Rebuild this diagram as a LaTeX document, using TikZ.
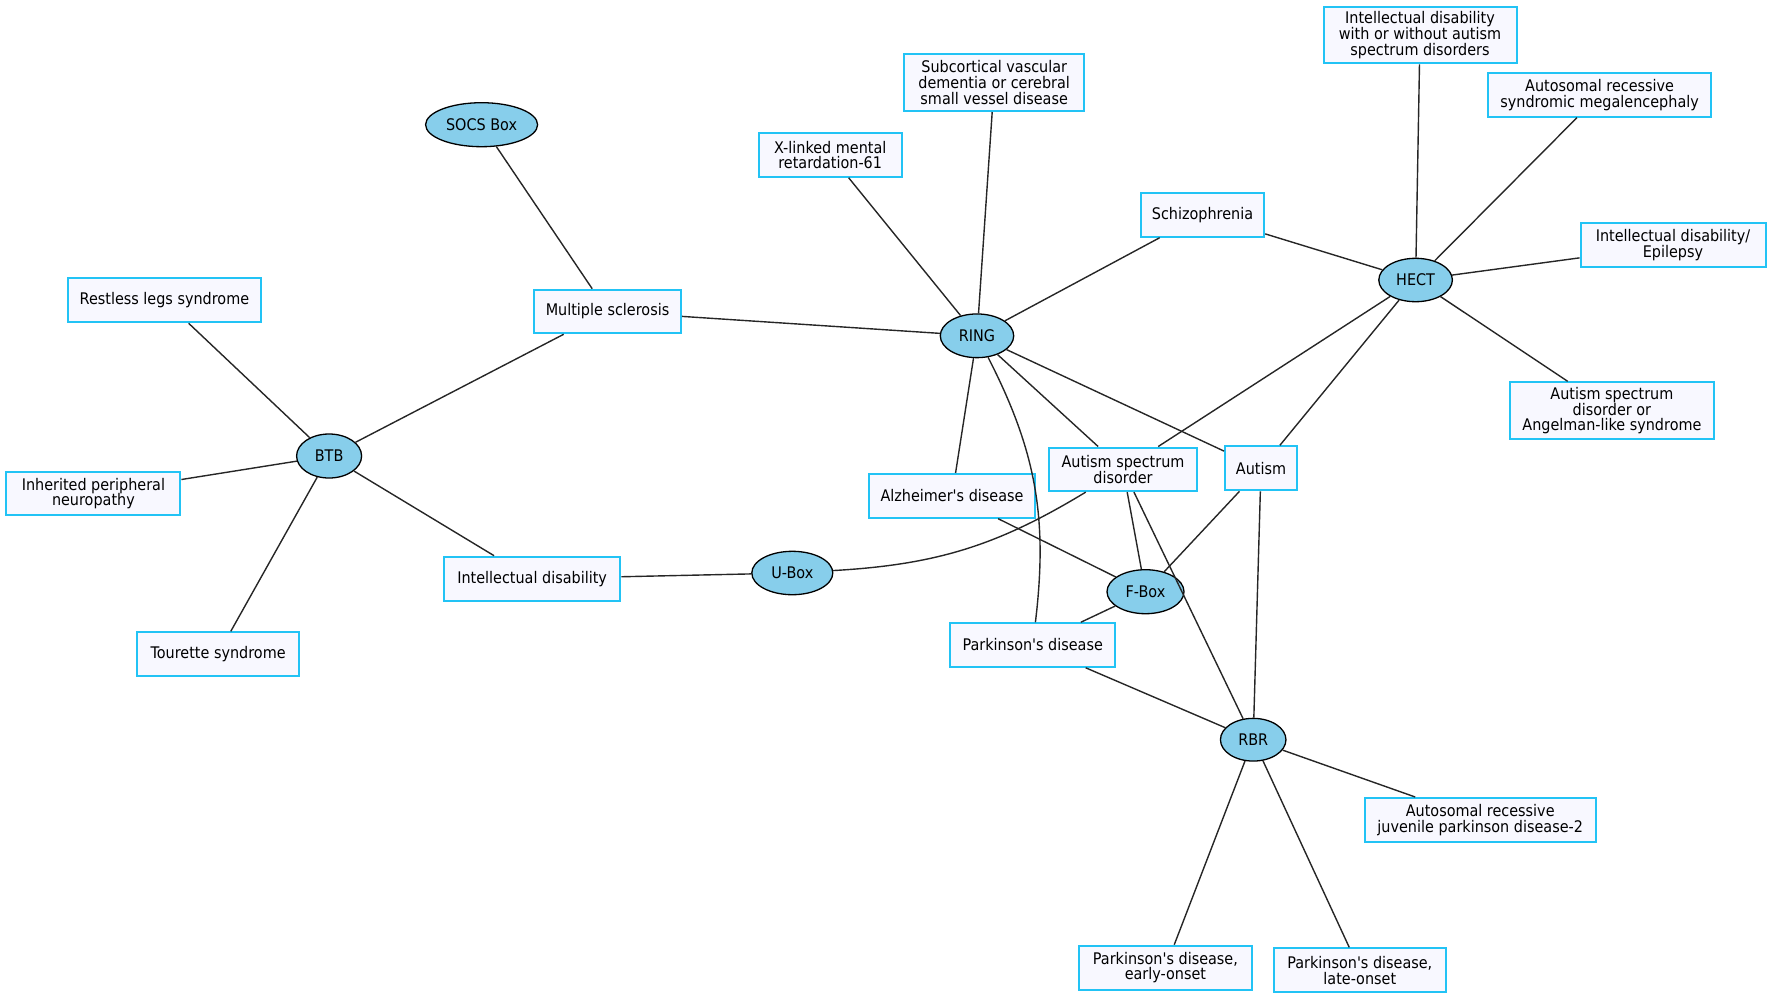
\documentclass[tikz,border=0pt]{standalone}
\usepackage{fontspec}
\newfontfamily\diag{DejaVu Sans}[FakeStretch=0.9]
\usetikzlibrary{shapes.geometric}
\definecolor{ellfill}{HTML}{87CEEB}
\definecolor{boxline}{HTML}{22C3F5}
\definecolor{boxfill}{HTML}{F8F8FF}
\tikzset{
  dis/.style={draw=boxline, fill=boxfill, line width=2pt, rectangle, inner sep=0pt, align=center, font=\diag\fontsize{16}{15.7}\selectfont},
  dom/.style={draw=black, fill=ellfill, line width=1.3pt, ellipse, inner sep=0pt, font=\diag\fontsize{16}{15.7}\selectfont},
  link/.style={draw=black!85, line width=1.4pt}
}
\begin{document}
\begin{tikzpicture}[x=1pt,y=-1pt]
\useasboundingbox (0,0) rectangle (1772,999);
% domains
\node[dom, minimum width=112, minimum height=44] (socs) at (481.6,124.7) {SOCS Box};
\node[dom, minimum width=65, minimum height=44] (btb) at (329.1,456) {BTB};
\node[dom, minimum width=81, minimum height=43.4] (ubox) at (792.3,573) {U-Box};
\node[dom, minimum width=73.4, minimum height=43.7] (ring) at (977,335.8) {RING};
\node[dom, minimum width=73.6, minimum height=43.4] (hect) at (1415.6,280) {HECT};
\node[dom, minimum width=77, minimum height=44] (fbox) at (1145.5,591.7) {F-Box};
\node[dom, minimum width=65.5, minimum height=42.7] (rbr) at (1253.2,739.7) {RBR};
% diseases
\node[dis, minimum width=147, minimum height=43.5] (ms) at (607.5,311.5) {Multiple sclerosis};
\node[dis, minimum width=192.5, minimum height=44] (rls) at (164.4,300.3) {Restless legs syndrome};
\node[dis, minimum width=174, minimum height=43.6] (ipn) at (93.4,493.5) {Inherited peripheral\\neuropathy};
\node[dis, minimum width=162.3, minimum height=43.4] (ts) at (218.1,654) {Tourette syndrome};
\node[dis, minimum width=176.4, minimum height=44] (id) at (532.1,578.7) {Intellectual disability};
\node[dis, minimum width=143, minimum height=43.4] (xl) at (830.2,155) {X-linked mental\\retardation-61};
\node[dis, minimum width=180, minimum height=57] (sub) at (994.2,82.5) {Subcortical vascular\\dementia or cerebral\\small vessel disease};
\node[dis, minimum width=123.5, minimum height=44] (sch) at (1202.5,214.7) {Schizophrenia};
\node[dis, minimum width=193, minimum height=56.6] (idw) at (1420,35) {Intellectual disability\\with or without autism\\spectrum disorders};
\node[dis, minimum width=223.6, minimum height=43.7] (arm) at (1599.6,94.8) {Autosomal recessive\\syndromic megalencephaly};
\node[dis, minimum width=185, minimum height=44] (ide) at (1673,245.3) {Intellectual disability/\\Epilepsy};
\node[dis, minimum width=204.3, minimum height=57] (asa) at (1611.9,410.8) {Autism spectrum\\disorder or\\Angelman-like syndrome};
\node[dis, minimum width=165.3, minimum height=43.7] (alz) at (952,495.8) {Alzheimer's disease};
\node[dis, minimum width=148.7, minimum height=43.6] (asd) at (1123,469.3) {Autism spectrum\\disorder};
\node[dis, minimum width=72, minimum height=44] (aut) at (1261,468.3) {Autism};
\node[dis, minimum width=164.5, minimum height=43.5] (pd) at (1032.7,645) {Parkinson's disease};
\node[dis, minimum width=230.8, minimum height=44] (arj) at (1480.2,820) {Autosomal recessive\\juvenile parkinson disease-2};
\node[dis, minimum width=172.4, minimum height=44] (pde) at (1165.4,967.7) {Parkinson's disease,\\early-onset};
\node[dis, minimum width=172.4, minimum height=43.7] (pdl) at (1359.8,970.2) {Parkinson's disease,\\late-onset};
% links
\draw[link] (socs) -- (ms);
\draw[link] (btb) -- (ms);
\draw[link] (btb) -- (rls);
\draw[link] (btb) -- (ipn);
\draw[link] (btb) -- (ts);
\draw[link] (btb) -- (id);
\draw[link] (id) -- (ubox);
\draw[link] (ubox) to[bend right=14] (asd);
\draw[link] (ms) -- (ring);
\draw[link] (ring) -- (xl);
\draw[link] (ring) -- (sub);
\draw[link] (ring) -- (sch);
\draw[link] (ring) -- (alz);
\draw[link] (ring) to[bend left=17] (pd);
\draw[link] (ring) -- (asd);
\draw[link] (ring) -- (aut);
\draw[link] (sch) -- (hect);
\draw[link] (hect) -- (idw);
\draw[link] (hect) -- (arm);
\draw[link] (hect) -- (ide);
\draw[link] (hect) -- (asa);
\draw[link] (hect) -- (asd);
\draw[link] (hect) -- (aut);
\draw[link] (alz) -- (fbox);
\draw[link] (asd) -- (fbox);
\draw[link] (aut) -- (fbox);
\draw[link] (fbox) -- (pd);
\draw[link] (asd) -- (rbr);
\draw[link] (aut) -- (rbr);
\draw[link] (pd) -- (rbr);
\draw[link] (rbr) -- (arj);
\draw[link] (rbr) -- (pde);
\draw[link] (rbr) -- (pdl);
\end{tikzpicture}
\end{document}
